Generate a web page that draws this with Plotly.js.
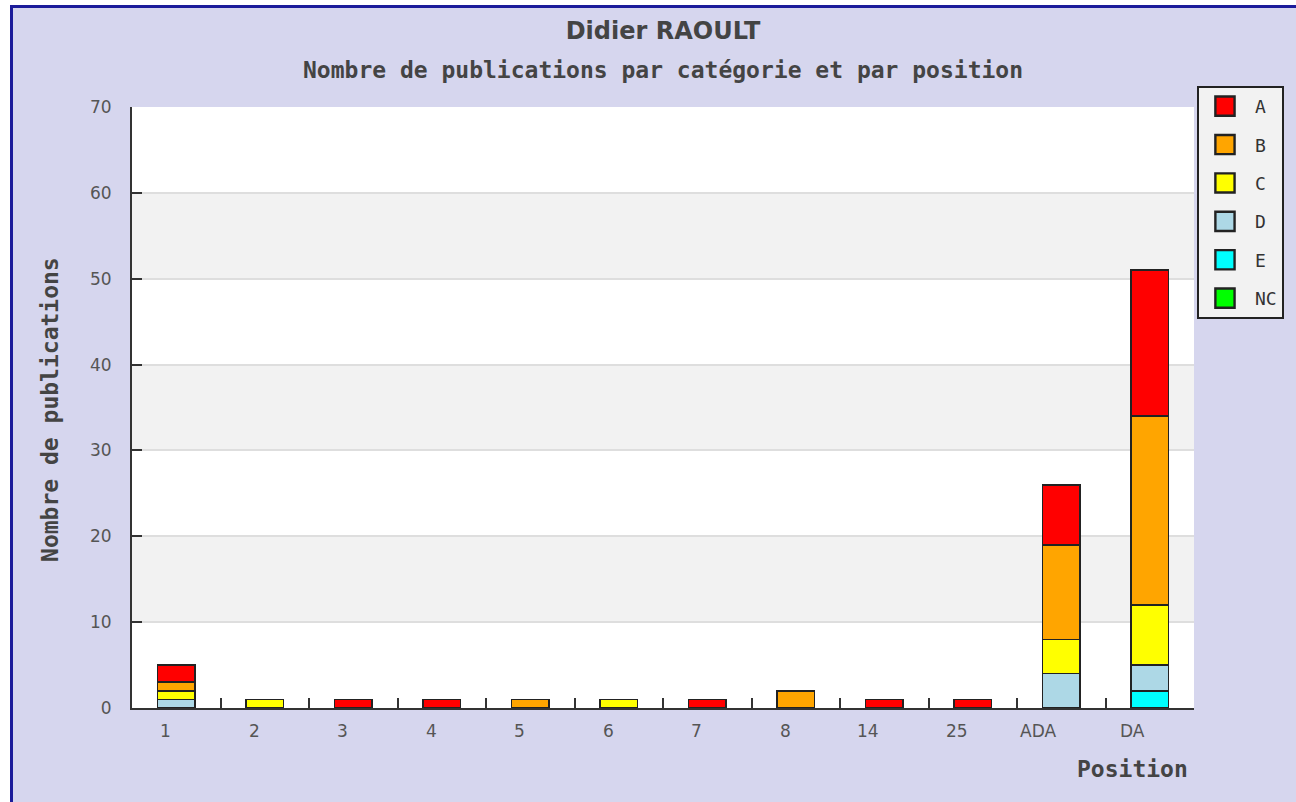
<!DOCTYPE html>
<html>
<head>
<meta charset="utf-8">
<script src="https://cdn.plot.ly/plotly-3.0.1.min.js"></script>
<style>
  html, body { margin: 0; padding: 0; background: #ffffff; width: 1296px; height: 802px; overflow: hidden; }
  #frame { position: absolute; left: 10px; top: 5px; width: 1286px; height: 797px;
           border-left: 3px solid #1c1c9a; border-top: 3px solid #1c1c9a; background: #d6d6ee; }
  #chart { position: absolute; left: 0; top: 0; width: 1283px; height: 794px; }
  #chart .legend .legendpoints path { transform: translate(26px, 0px) scale(1.6); }
</style>
</head>
<body>
<div id="frame"><div id="chart"></div></div>
<script>
const categories = ['1', '2', '3', '4', '5', '6', '7', '8', '14', '25', 'ADA', 'DA'];
const seriesA  = [2, 0, 1, 1, 0, 0, 1, 0, 1, 1, 7, 17];
const seriesB  = [1, 0, 0, 0, 1, 0, 0, 2, 0, 0, 11, 22];
const seriesC  = [1, 1, 0, 0, 0, 1, 0, 0, 0, 0, 4, 7];
const seriesD  = [1, 0, 0, 0, 0, 0, 0, 0, 0, 0, 4, 3];
const seriesE  = [0, 0, 0, 0, 0, 0, 0, 0, 0, 0, 0, 2];
const seriesNC = [0, 0, 0, 0, 0, 0, 0, 0, 0, 0, 0, 0];
const yTicks = [0, 10, 20, 30, 40, 50, 60, 70];

const chartTitle = 'Didier RAOULT';
const chartSubtitle = 'Nombre de publications par catégorie et par position';
const yTitle = 'Nombre de publications';
const xTitle = 'Position';

// bottom-up stacking order; legend shows A first
const series = [
  {name: 'NC', values: seriesNC, color: '#00ff00'},
  {name: 'E',  values: seriesE,  color: '#00ffff'},
  {name: 'D',  values: seriesD,  color: '#add8e6'},
  {name: 'C',  values: seriesC,  color: '#ffff00'},
  {name: 'B',  values: seriesB,  color: '#ffa500'},
  {name: 'A',  values: seriesA,  color: '#ff0000'}
];

const traces = series.map((s, i) => ({
  type: 'bar',
  name: s.name,
  legendgroup: s.name,
  legendrank: 1000 + (series.length - i),
  x: categories,
  y: s.values.map(v => v === 0 ? null : v),
  marker: {color: s.color, line: {color: '#222222', width: 1.5}},
  hoverinfo: 'x+y+name'
}));

// alternating background bands between gridlines
const shapes = [];
for (let i = 0; i < yTicks.length - 1; i++) {
  if (i % 2 === 1) {
    shapes.push({type: 'rect', xref: 'paper', yref: 'y', x0: 0, x1: 1,
      y0: yTicks[i], y1: yTicks[i + 1], fillcolor: '#f2f2f2', line: {width: 0}, layer: 'below'});
  }
}

const mono = 'DejaVu Sans Mono, monospace';
const sans = 'DejaVu Sans, sans-serif';

// category labels, right-aligned just left of each category centre
const xLabelAnnotations = categories.map((c, i) => ({
  text: c, xref: 'x', yref: 'paper', x: i, y: 0, xanchor: 'right', yanchor: 'middle',
  xshift: -3, yshift: -23, showarrow: false,
  font: {family: sans, size: 17, color: '#555555'}
}));

const layout = {
  width: 1283, height: 794,
  margin: {l: 119, r: 102, t: 99, b: 94},
  paper_bgcolor: 'rgba(0,0,0,0)',
  plot_bgcolor: '#ffffff',
  barmode: 'stack',
  bargap: 0.58,
  showlegend: true,
  title: {text: '<b>' + chartTitle + '</b>', xref: 'paper', x: 0.5, xanchor: 'center',
          yref: 'container', y: 0.972, yanchor: 'middle',
          font: {family: sans, size: 24, color: '#444444'}},
  legend: {x: 1.0028, xanchor: 'left', y: 1.035, yanchor: 'top',
           bgcolor: '#f2f2f2', bordercolor: '#222222', borderwidth: 2,
           font: {family: mono, size: 18, color: '#333333'},
           traceorder: 'grouped', tracegroupgap: 12, itemwidth: 46, itemclick: false},
  xaxis: {type: 'category', categoryorder: 'array', categoryarray: categories,
          range: [-0.5, categories.length - 0.5],
          showline: true, linecolor: '#333333', linewidth: 2,
          ticks: 'inside', tickson: 'boundaries', ticklen: 10, tickwidth: 2, tickcolor: '#333333',
          showticklabels: false,
          showgrid: false, zeroline: false, fixedrange: true},
  yaxis: {range: [0, 70], tickvals: yTicks, ticktext: yTicks.map(String),
          showline: true, linecolor: '#333333', linewidth: 2,
          ticks: 'inside', ticklen: 10, tickwidth: 2, tickcolor: '#333333',
          ticklabelstandoff: 15,
          tickfont: {family: sans, size: 17, color: '#555555'},
          showgrid: true, gridcolor: '#dedede', gridwidth: 2, zeroline: false, fixedrange: true},
  shapes: shapes,
  annotations: [
    {text: '<b>' + chartSubtitle + '</b>', xref: 'paper', yref: 'paper', x: 0.5, y: 1.0616,
     xanchor: 'center', yanchor: 'middle', showarrow: false,
     font: {family: mono, size: 23, color: '#444444'}},
    {text: '<b>' + yTitle + '</b>', xref: 'paper', yref: 'paper', x: -0.0772, y: 0.496,
     xanchor: 'center', yanchor: 'middle', textangle: -90, showarrow: false,
     font: {family: mono, size: 23, color: '#444444'}},
    {text: '<b>' + xTitle + '</b>', xref: 'paper', yref: 'paper', x: 0.9962, y: -0.1015,
     xanchor: 'right', yanchor: 'middle', showarrow: false,
     font: {family: mono, size: 23, color: '#444444'}}
  ].concat(xLabelAnnotations)
};

Plotly.newPlot('chart', traces, layout, {displayModeBar: false});
</script>
</body>
</html>
